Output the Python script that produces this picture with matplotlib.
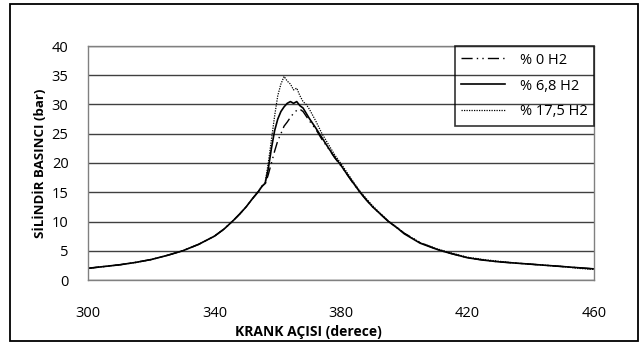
import matplotlib
matplotlib.use("Agg")
import matplotlib.pyplot as plt
from matplotlib.patches import Rectangle

# === Data ===
angle = [300, 305, 310, 315, 320, 325, 330, 335, 340, 343, 346, 348, 350, 352, 354, 355,
         356, 357, 358, 359, 360, 361, 362, 363, 364, 365, 366, 367, 368, 369, 370,
         372, 374, 376, 378, 380, 382, 384, 386, 388, 390, 392, 395, 398, 400,
         405, 410, 413, 415, 420, 425, 430, 435, 440, 445, 450, 455, 460]

h2_0 = [2.0, 2.3, 2.6, 3.0, 3.5, 4.2, 5.0, 6.1, 7.5, 8.7, 10.2, 11.3, 12.5, 13.9, 15.2, 16.0,
        16.3, 18.0, 20.0, 22.0, 23.8, 25.0, 26.3, 27.0, 27.8, 28.5, 29.0, 29.2, 28.8, 28.0, 27.2,
        25.8, 24.0, 22.5, 20.9, 19.5, 18.0, 16.4, 15.0, 13.7, 12.5, 11.5, 10.0, 8.8, 8.0,
        6.4, 5.3, 4.8, 4.5, 3.8, 3.4, 3.1, 2.9, 2.7, 2.5, 2.3, 2.1, 1.9]

h2_68 = [2.0, 2.3, 2.6, 3.0, 3.5, 4.2, 5.0, 6.1, 7.5, 8.7, 10.2, 11.3, 12.5, 13.9, 15.2, 16.0,
         16.5, 19.0, 22.5, 25.5, 27.5, 28.8, 29.6, 30.2, 30.5, 30.2, 30.5, 29.8, 29.4, 28.5, 27.6,
         26.0, 24.3, 22.6, 21.0, 19.6, 18.0, 16.5, 15.0, 13.7, 12.5, 11.5, 10.0, 8.8, 7.9,
         6.3, 5.3, 4.8, 4.5, 3.8, 3.4, 3.1, 2.9, 2.7, 2.5, 2.3, 2.1, 1.9]

h2_175 = [2.0, 2.3, 2.6, 3.0, 3.5, 4.2, 5.0, 6.1, 7.5, 8.7, 10.2, 11.3, 12.5, 13.9, 15.3, 16.1,
          16.6, 20.0, 24.0, 28.0, 31.5, 33.5, 34.8, 34.0, 33.5, 32.5, 32.8, 31.5, 30.5, 30.0, 29.2,
          27.2, 25.0, 23.2, 21.4, 19.9, 18.3, 16.7, 15.2, 13.9, 12.7, 11.6, 10.1, 8.9, 8.0,
          6.4, 5.4, 4.9, 4.6, 3.9, 3.5, 3.2, 2.9, 2.7, 2.5, 2.3, 2.0, 1.8]

labels = ["% 0 H2", "% 6,8 H2", "% 17,5 H2"]
x_ticks = [300, 340, 380, 420, 460]
y_ticks = [0, 5, 10, 15, 20, 25, 30, 35, 40]

FONT = "Open Sans"
plt.rcParams["font.family"] = [FONT, "DejaVu Sans"]

W, H = 642, 343
fig = plt.figure(figsize=(W / 100, H / 100), dpi=100)
ax = fig.add_axes([88 / W, 1 - 280 / H, (594 - 88) / W, (280 - 46) / H])

ax.plot(angle, h2_0, color="black", lw=1.0, linestyle=(0, (8, 3, 1, 3, 1, 3)), label=labels[0])
ax.plot(angle, h2_68, color="black", lw=1.2, linestyle="-", label=labels[1])
ax.plot(angle, h2_175, color="black", lw=0.9, linestyle=(0, (1, 1)), label=labels[2])

ax.set_xlim(300, 460)
ax.set_ylim(0, 40)
ax.set_xticks(x_ticks)
ax.set_yticks(y_ticks)
ax.yaxis.grid(True, color="#404040", lw=1.0)
ax.set_axisbelow(True)
ax.tick_params(axis="both", length=0, labelsize=10.5, colors="black")
ax.tick_params(axis="x", pad=19)
ax.tick_params(axis="y", pad=14)
for s in ax.spines.values():
    s.set_color("#808080")
    s.set_linewidth(1.0)

leg = ax.legend(loc="upper right", bbox_to_anchor=(1, 1), borderaxespad=0,
                fancybox=False, frameon=True, fontsize=10.5, handlelength=3.0,
                borderpad=0.45, labelspacing=0.75, handletextpad=1.0)
leg.get_frame().set_facecolor("none")
leg.get_frame().set_edgecolor("black")
leg.get_frame().set_linewidth(1.2)

fig.text(40 / W, 1 - 163 / H, "SİLİNDİR BASINCI (bar)", rotation=90, ha="center",
         va="center", fontsize=9.5, fontweight="bold")
fig.text(308 / W, 1 - 332 / H, "KRANK AÇISI (derece)", ha="center", va="center",
         fontsize=10, fontweight="bold")

# outer chart frame
fig.patches.append(Rectangle((10 / W, 2 / H), (638 - 10) / W, (339 - 2) / H,
                             transform=fig.transFigure, fill=False,
                             edgecolor="black", lw=1.3))

fig.savefig("out.png", dpi=100)
